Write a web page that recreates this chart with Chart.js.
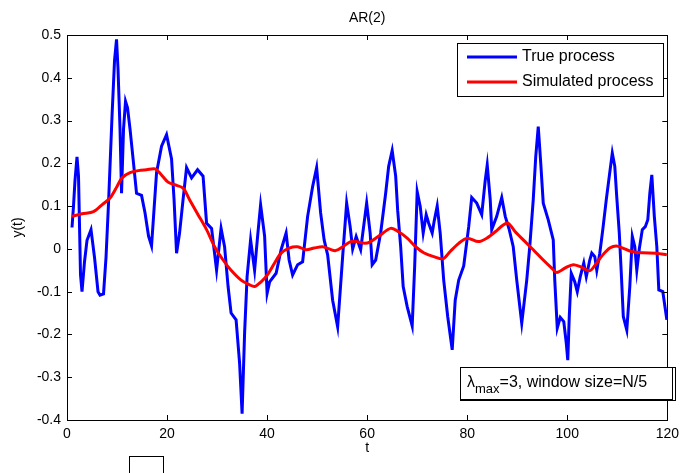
<!DOCTYPE html>
<html>
<head>
<meta charset="utf-8">
<title>AR(2)</title>
<script src="https://cdn.jsdelivr.net/npm/chart.js@4.4.1/dist/chart.umd.min.js"></script>
<style>
    html, body { margin: 0; padding: 0; background: #fff; }
    #grafik { display: block; }
</style>
</head>
<body>
<canvas id="grafik" width="685" height="473"></canvas>
<script>
// true process (t, y)
const tTrue = [1, 1.3, 1.6, 2, 2.3, 2.7, 3, 3.5, 4, 4.8, 5.5, 6.2, 6.6, 7.3, 7.8, 8.3, 9, 9.5, 9.9, 10.2,
    10.6, 10.9, 11.3, 11.7, 12.1, 12.6, 13.3, 13.9, 14.9, 15.6, 16.3, 16.9, 17.9, 18.9, 19.9, 20.9, 21.4, 21.9, 22.5, 23.2,
    23.9, 24.9, 26.1, 27.2, 27.9, 28.9, 29.9, 30.8, 31.5, 32.2, 32.8, 33.8, 34.5, 35, 35.5, 36, 36.7, 37.5, 38.1, 38.7,
    39.5, 40, 40.5, 41.8, 42.8, 43.8, 44.4, 45.1, 46.1, 47.1, 48.1, 49.1, 49.9, 50.7, 51.4, 52.1, 53.1, 54.1, 55.1, 55.9,
    56.6, 57.1, 57.8, 58.7, 59.9, 60.6, 61, 61.7, 62.7, 63.7, 64.3, 65, 65.7, 66.1, 66.7, 67.2, 68, 69, 69.5, 70,
    70.6, 71.2, 71.8, 72.3, 73, 73.4, 74, 74.6, 75.3, 76.1, 77, 77.6, 78.3, 79.3, 80.3, 80.9, 81.9, 82.9, 83.6, 84,
    84.6, 84.9, 85.9, 86.9, 87.6, 88.4, 89.2, 89.9, 90.9, 91.9, 92.5, 93.2, 93.7, 94.2, 94.7, 95.2, 96.2, 97.2, 97.5, 98,
    98.6, 99.3, 99.8, 100.1, 100.4, 100.8, 101.5, 102, 102.6, 103.3, 103.8, 104.5, 104.9, 105.5, 105.9, 106.5, 107.1, 107.8, 108.4, 109,
    109.5, 109.9, 110.4, 110.8, 111.2, 111.9, 112.5, 113, 113.5, 113.9, 114.4, 115, 115.6, 116.1, 116.5, 116.9, 117.4, 117.9, 118.3, 119.1,
    119.9];
const yTrue = [0.05, 0.10, 0.16, 0.215, 0.17, -0.06, -0.10, -0.03, 0.02, 0.045, -0.02, -0.10, -0.108, -0.105, -0.02, 0.107, 0.31, 0.44, 0.49, 0.42,
    0.28, 0.13, 0.28, 0.345, 0.33, 0.28, 0.20, 0.13, 0.125, 0.084, 0.03, 0.007, 0.178, 0.24, 0.267, 0.21, 0.115, -0.01, 0.037, 0.115,
    0.19, 0.166, 0.185, 0.17, 0.06, 0.048, -0.05, 0.048, 0.005, -0.088, -0.15, -0.166, -0.267, -0.385, -0.197, -0.065, 0.021, -0.05, 0.029, 0.103,
    0.03, -0.104, -0.077, -0.057, -0.002, 0.037, -0.026, -0.061, -0.037, -0.03, 0.076, 0.146, 0.19, 0.084, 0.021, -0.014, -0.12, -0.182, -0.018, 0.107,
    0.052, 0.0, 0.029, -0.002, 0.107, 0.037, -0.037, -0.026, 0.037, 0.13, 0.193, 0.23, 0.17, 0.09, 0.005, -0.088, -0.135, -0.18, -0.04, 0.134,
    0.10, 0.037, 0.08, 0.06, 0.037, 0.065, 0.10, 0.037, -0.073, -0.158, -0.236, -0.12, -0.073, -0.04, 0.052, 0.12, 0.107, 0.08, 0.16, 0.196,
    0.115, 0.045, 0.076, 0.12, 0.076, 0.045, 0.005, -0.073, -0.174, -0.073, 0.005, 0.115, 0.216, 0.286, 0.20, 0.107, 0.068, 0.021, -0.073, -0.185,
    -0.16, -0.17, -0.22, -0.26, -0.158, -0.057, -0.077, -0.10, -0.065, -0.033, -0.065, -0.026, -0.01, -0.018, -0.05, -0.01, 0.045, 0.115, 0.17, 0.224,
    0.193, 0.12, 0.037, -0.057, -0.158, -0.19, -0.088, 0.029, 0.005, -0.05, 0.0, 0.045, 0.052, 0.068, 0.13, 0.173, 0.076, 0.005, -0.096, -0.10,
    -0.166];

// simulated process (t, y)
const tSim = [1, 3, 5.3, 7, 8.6, 10, 11, 12.6, 14.3, 15.9, 17.6, 18.8, 20.2, 21.5, 23.2, 24.5, 26.2, 27.9, 29.5, 31.2,
    32.8, 34.8, 36.5, 37.5, 38.8, 40.1, 41.5, 42.8, 44.4, 46.1, 47.8, 49.4, 51.1, 52.4, 53.7, 55.1, 56.7, 58, 59.5, 60.7,
    62.7, 64.7, 66.3, 68, 69.7, 71.3, 73.3, 75.2, 76.6, 78.3, 80, 82.2, 83.9, 85.6, 87.2, 88.2, 89.6, 91.2, 93.2, 95.2,
    96.9, 97.9, 99.8, 101.2, 102.5, 104.5, 105.8, 107.1, 108.5, 109.8, 111.1, 112.8, 115.1, 117.8, 119.9];
const ySim = [0.076, 0.082, 0.087, 0.103, 0.119, 0.146, 0.166, 0.178, 0.183, 0.185, 0.187, 0.174, 0.156, 0.15, 0.142, 0.115, 0.08, 0.045, 0.005, -0.026,
    -0.05, -0.073, -0.084, -0.088, -0.077, -0.06, -0.033, -0.01, 0.002, 0.005, -0.002, 0.002, 0.005, 0.0, -0.004, 0.005, 0.017, 0.017, 0.013, 0.017,
    0.033, 0.048, 0.04, 0.025, 0.005, -0.009, -0.018, -0.023, -0.006, 0.013, 0.025, 0.017, 0.025, 0.04, 0.056, 0.06, 0.04, 0.021, -0.002, -0.026,
    -0.045, -0.055, -0.043, -0.037, -0.041, -0.051, -0.034, -0.014, 0.002, 0.007, 0.002, -0.006, -0.009, -0.01, -0.014];

const xTicks = [0, 20, 40, 60, 80, 100, 120];
const yTicks = [-0.4, -0.3, -0.2, -0.1, 0, 0.1, 0.2, 0.3, 0.4, 0.5];
const seriesNames = ['True process', 'Simulated process'];
const fontName = '"Liberation Sans", Arial, sans-serif';

function toPoints(xs, ys) {
    return xs.map((x, i) => ({ x: x, y: ys[i] }));
}

// frame, inward ticks, legend, note, titles
const matlabLook = {
    id: 'matlabLook',
    afterDraw(chart) {
        const ctx = chart.ctx;
        const a = chart.chartArea;
        const sx = chart.scales.x;
        const sy = chart.scales.y;
        ctx.save();
        ctx.strokeStyle = '#000';
        ctx.lineWidth = 1;
        ctx.strokeRect(Math.round(a.left) + 0.5, Math.round(a.top) + 0.5,
            Math.round(a.right - a.left), Math.round(a.bottom - a.top));

        ctx.beginPath();
        xTicks.forEach(v => {
            const px = Math.round(sx.getPixelForValue(v)) + 0.5;
            ctx.moveTo(px, a.bottom); ctx.lineTo(px, a.bottom - 5);
            ctx.moveTo(px, a.top); ctx.lineTo(px, a.top + 5);
        });
        yTicks.forEach(v => {
            const py = Math.round(sy.getPixelForValue(v)) + 0.5;
            ctx.moveTo(a.left, py); ctx.lineTo(a.left + 5, py);
            ctx.moveTo(a.right, py); ctx.lineTo(a.right - 5, py);
        });
        ctx.stroke();

        // legend
        ctx.fillStyle = '#fff';
        ctx.fillRect(457, 43, 206, 53);
        ctx.strokeRect(457.5, 43.5, 206, 53);
        ctx.font = '16px ' + fontName;
        ctx.textBaseline = 'middle';
        ctx.textAlign = 'left';
        chart.data.datasets.forEach((ds, i) => {
            const yy = i === 0 ? 57 : 82;
            ctx.strokeStyle = ds.borderColor;
            ctx.lineWidth = 3;
            ctx.beginPath();
            ctx.moveTo(467, yy); ctx.lineTo(517, yy);
            ctx.stroke();
            ctx.fillStyle = '#000';
            ctx.fillText(ds.label, 522, yy);
        });

        // note box
        ctx.strokeStyle = '#000';
        ctx.lineWidth = 1;
        ctx.fillStyle = '#fff';
        ctx.fillRect(460, 367, 212, 32);
        ctx.strokeRect(460.5, 367.5, 212, 32);
        ctx.strokeRect(460.5, 367.5, 215, 33);
        ctx.fillStyle = '#000';
        ctx.textBaseline = 'alphabetic';
        let xx = 467;
        ctx.font = '16px ' + fontName;
        ctx.fillText('\u03bb', xx, 387);
        xx += ctx.measureText('\u03bb').width;
        ctx.font = '13px ' + fontName;
        ctx.fillText('max', xx, 393);
        xx += ctx.measureText('max').width;
        ctx.font = '16px ' + fontName;
        ctx.fillText('=3, window size=N/5', xx, 387);

        // titles
        ctx.textAlign = 'center';
        ctx.textBaseline = 'middle';
        ctx.font = '14px ' + fontName;
        ctx.fillText('AR(2)', (a.left + a.right) / 2, 18);
        ctx.fillText('t', (a.left + a.right) / 2, 448);
        ctx.save();
        ctx.translate(18, (a.top + a.bottom) / 2);
        ctx.rotate(-Math.PI / 2);
        ctx.fillText('y(t)', 0, 0);
        ctx.restore();

        // stray empty box below the axis
        ctx.strokeRect(129.5, 456.5, 34, 20);
        ctx.restore();
    }
};

new Chart(document.getElementById('grafik').getContext('2d'), {
    type: 'line',
    data: {
        datasets: [{
            label: seriesNames[0],
            data: toPoints(tTrue, yTrue),
            borderColor: '#0000ff',
            borderWidth: 3,
            pointRadius: 0,
            tension: 0,
            fill: false,
            order: 1
        }, {
            label: seriesNames[1],
            data: toPoints(tSim, ySim),
            borderColor: '#ff0000',
            borderWidth: 3,
            pointRadius: 0,
            tension: 0.3,
            fill: false,
            order: 0
        }]
    },
    options: {
        responsive: false,
        animation: false,
        layout: { padding: { left: 0, top: 35, right: 15, bottom: 0 } },
        plugins: {
            legend: { display: false },
            tooltip: { enabled: false }
        },
        scales: {
            x: {
                type: 'linear',
                min: 0,
                max: 120,
                afterBuildTicks: s => { s.ticks = xTicks.map(v => ({ value: v })); },
                afterFit: s => { s.height = 53; },
                grid: { display: false, drawTicks: false },
                border: { display: false },
                ticks: {
                    padding: 6,
                    color: '#000',
                    font: { family: fontName, size: 14 },
                    maxRotation: 0
                }
            },
            y: {
                min: -0.4,
                max: 0.5,
                afterBuildTicks: s => { s.ticks = yTicks.map(v => ({ value: v })); },
                afterFit: s => { s.width = 67; },
                grid: { display: false, drawTicks: false },
                border: { display: false },
                ticks: {
                    padding: 6,
                    color: '#000',
                    font: { family: fontName, size: 14 },
                    callback: v => (Math.abs(v) < 1e-9 ? '0' : String(Math.round(v * 10) / 10))
                }
            }
        }
    },
    plugins: [matlabLook]
});
</script>
</body>
</html>
